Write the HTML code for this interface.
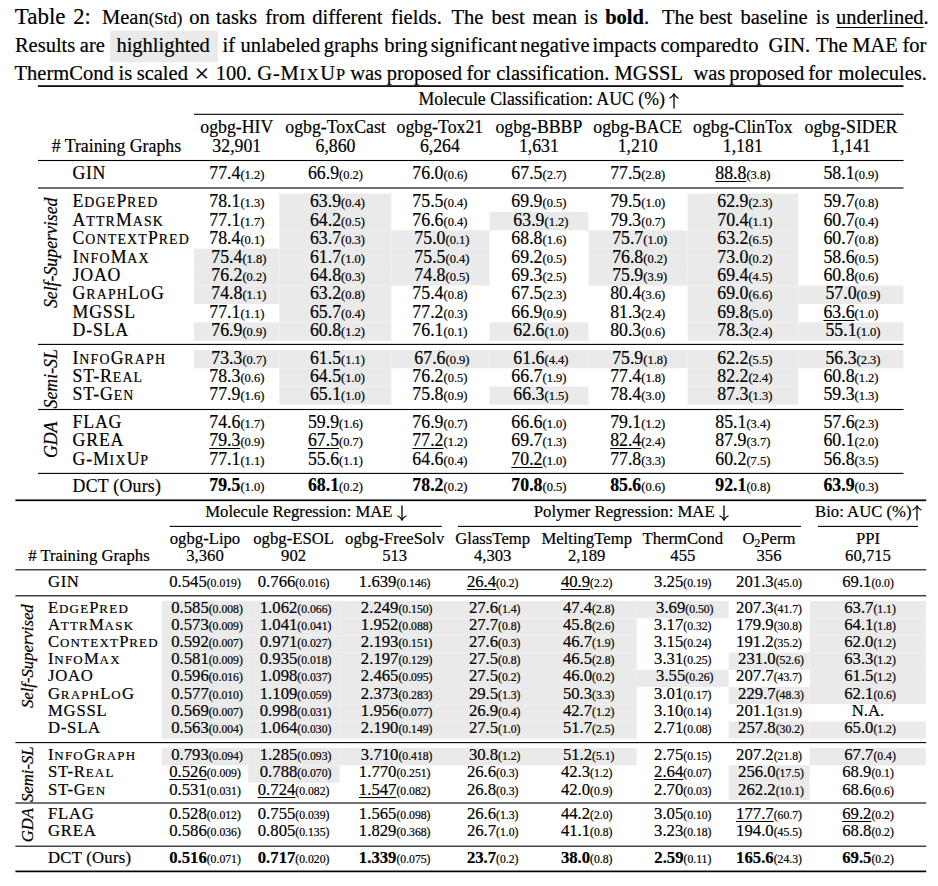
<!DOCTYPE html>
<html><head><meta charset="utf-8"><style>
html,body{margin:0;padding:0;background:#fff;}
body{width:938px;height:886px;position:relative;overflow:hidden;font-family:"Liberation Serif",serif;color:#000;-webkit-text-stroke:0.2px #000;}
.t{position:absolute;white-space:nowrap;line-height:1em;}
.r{position:absolute;}
.sc{font-size:0.78em;letter-spacing:1.2px;}
.cs{font-size:0.82em;}
.sc2{font-size:0.8em;letter-spacing:1.6px;}
.cap{position:absolute;line-height:1em;text-align:justify;text-align-last:justify;}
.hl{background:#ebebeb;padding:5px 6px 6px 6px;}
.v{position:absolute;text-align:center;transform:rotate(-90deg);font-style:italic;white-space:nowrap;}
.ar{vertical-align:-3.7px;}
u{text-decoration-thickness:1.1px;text-underline-offset:2.4px;text-decoration-color:#000;}
u.cu{text-decoration-thickness:1.4px;text-underline-offset:3.2px;}
sub{font-size:0.7em;vertical-align:-0.25em;line-height:0;}
</style></head><body>
<svg style="position:absolute;left:0;top:0" width="938" height="886" viewBox="0 0 938 886">
<rect x="110.10" y="31.00" width="107.80" height="31.40" fill="#eaeaea"/>
<rect x="279.30" y="193.50" width="112.00" height="18.41" fill="#eaeaea"/>
<rect x="687.60" y="193.50" width="110.70" height="18.41" fill="#eaeaea"/>
<rect x="279.30" y="211.91" width="112.00" height="18.41" fill="#eaeaea"/>
<rect x="489.50" y="211.91" width="99.00" height="18.41" fill="#eaeaea"/>
<rect x="687.60" y="211.91" width="110.70" height="18.41" fill="#eaeaea"/>
<rect x="279.30" y="230.32" width="112.00" height="18.41" fill="#eaeaea"/>
<rect x="391.30" y="230.32" width="98.20" height="18.41" fill="#eaeaea"/>
<rect x="588.50" y="230.32" width="99.10" height="18.41" fill="#eaeaea"/>
<rect x="687.60" y="230.32" width="110.70" height="18.41" fill="#eaeaea"/>
<rect x="194.00" y="248.73" width="85.30" height="18.41" fill="#eaeaea"/>
<rect x="279.30" y="248.73" width="112.00" height="18.41" fill="#eaeaea"/>
<rect x="391.30" y="248.73" width="98.20" height="18.41" fill="#eaeaea"/>
<rect x="588.50" y="248.73" width="99.10" height="18.41" fill="#eaeaea"/>
<rect x="687.60" y="248.73" width="110.70" height="18.41" fill="#eaeaea"/>
<rect x="194.00" y="267.14" width="85.30" height="18.41" fill="#eaeaea"/>
<rect x="279.30" y="267.14" width="112.00" height="18.41" fill="#eaeaea"/>
<rect x="391.30" y="267.14" width="98.20" height="18.41" fill="#eaeaea"/>
<rect x="588.50" y="267.14" width="99.10" height="18.41" fill="#eaeaea"/>
<rect x="687.60" y="267.14" width="110.70" height="18.41" fill="#eaeaea"/>
<rect x="194.00" y="285.55" width="85.30" height="18.41" fill="#eaeaea"/>
<rect x="279.30" y="285.55" width="112.00" height="18.41" fill="#eaeaea"/>
<rect x="687.60" y="285.55" width="110.70" height="18.41" fill="#eaeaea"/>
<rect x="798.30" y="285.55" width="105.10" height="18.41" fill="#eaeaea"/>
<rect x="279.30" y="303.96" width="112.00" height="18.41" fill="#eaeaea"/>
<rect x="687.60" y="303.96" width="110.70" height="18.41" fill="#eaeaea"/>
<rect x="194.00" y="322.37" width="85.30" height="18.41" fill="#eaeaea"/>
<rect x="279.30" y="322.37" width="112.00" height="18.41" fill="#eaeaea"/>
<rect x="489.50" y="322.37" width="99.00" height="18.41" fill="#eaeaea"/>
<rect x="687.60" y="322.37" width="110.70" height="18.41" fill="#eaeaea"/>
<rect x="798.30" y="322.37" width="105.10" height="18.41" fill="#eaeaea"/>
<rect x="194.00" y="350.10" width="85.30" height="18.20" fill="#eaeaea"/>
<rect x="279.30" y="350.10" width="112.00" height="18.20" fill="#eaeaea"/>
<rect x="391.30" y="350.10" width="98.20" height="18.20" fill="#eaeaea"/>
<rect x="489.50" y="350.10" width="99.00" height="18.20" fill="#eaeaea"/>
<rect x="588.50" y="350.10" width="99.10" height="18.20" fill="#eaeaea"/>
<rect x="687.60" y="350.10" width="110.70" height="18.20" fill="#eaeaea"/>
<rect x="798.30" y="350.10" width="105.10" height="18.20" fill="#eaeaea"/>
<rect x="279.30" y="368.30" width="112.00" height="18.20" fill="#eaeaea"/>
<rect x="687.60" y="368.30" width="110.70" height="18.20" fill="#eaeaea"/>
<rect x="279.30" y="386.50" width="112.00" height="18.20" fill="#eaeaea"/>
<rect x="489.50" y="386.50" width="99.00" height="18.20" fill="#eaeaea"/>
<rect x="687.60" y="386.50" width="110.70" height="18.20" fill="#eaeaea"/>
<rect x="161.70" y="601.00" width="86.40" height="17.20" fill="#eaeaea"/>
<rect x="248.10" y="601.00" width="91.70" height="17.20" fill="#eaeaea"/>
<rect x="339.80" y="601.00" width="106.20" height="17.20" fill="#eaeaea"/>
<rect x="446.00" y="601.00" width="90.00" height="17.20" fill="#eaeaea"/>
<rect x="536.00" y="601.00" width="100.80" height="17.20" fill="#eaeaea"/>
<rect x="636.80" y="601.00" width="91.90" height="17.20" fill="#eaeaea"/>
<rect x="809.60" y="601.00" width="116.30" height="17.20" fill="#eaeaea"/>
<rect x="161.70" y="618.20" width="86.40" height="17.20" fill="#eaeaea"/>
<rect x="248.10" y="618.20" width="91.70" height="17.20" fill="#eaeaea"/>
<rect x="339.80" y="618.20" width="106.20" height="17.20" fill="#eaeaea"/>
<rect x="446.00" y="618.20" width="90.00" height="17.20" fill="#eaeaea"/>
<rect x="536.00" y="618.20" width="100.80" height="17.20" fill="#eaeaea"/>
<rect x="809.60" y="618.20" width="116.30" height="17.20" fill="#eaeaea"/>
<rect x="161.70" y="635.40" width="86.40" height="17.20" fill="#eaeaea"/>
<rect x="248.10" y="635.40" width="91.70" height="17.20" fill="#eaeaea"/>
<rect x="339.80" y="635.40" width="106.20" height="17.20" fill="#eaeaea"/>
<rect x="446.00" y="635.40" width="90.00" height="17.20" fill="#eaeaea"/>
<rect x="536.00" y="635.40" width="100.80" height="17.20" fill="#eaeaea"/>
<rect x="809.60" y="635.40" width="116.30" height="17.20" fill="#eaeaea"/>
<rect x="161.70" y="652.60" width="86.40" height="17.20" fill="#eaeaea"/>
<rect x="248.10" y="652.60" width="91.70" height="17.20" fill="#eaeaea"/>
<rect x="339.80" y="652.60" width="106.20" height="17.20" fill="#eaeaea"/>
<rect x="446.00" y="652.60" width="90.00" height="17.20" fill="#eaeaea"/>
<rect x="536.00" y="652.60" width="100.80" height="17.20" fill="#eaeaea"/>
<rect x="728.70" y="652.60" width="80.90" height="17.20" fill="#eaeaea"/>
<rect x="809.60" y="652.60" width="116.30" height="17.20" fill="#eaeaea"/>
<rect x="161.70" y="669.80" width="86.40" height="17.20" fill="#eaeaea"/>
<rect x="248.10" y="669.80" width="91.70" height="17.20" fill="#eaeaea"/>
<rect x="339.80" y="669.80" width="106.20" height="17.20" fill="#eaeaea"/>
<rect x="446.00" y="669.80" width="90.00" height="17.20" fill="#eaeaea"/>
<rect x="536.00" y="669.80" width="100.80" height="17.20" fill="#eaeaea"/>
<rect x="636.80" y="669.80" width="91.90" height="17.20" fill="#eaeaea"/>
<rect x="809.60" y="669.80" width="116.30" height="17.20" fill="#eaeaea"/>
<rect x="161.70" y="687.00" width="86.40" height="17.20" fill="#eaeaea"/>
<rect x="248.10" y="687.00" width="91.70" height="17.20" fill="#eaeaea"/>
<rect x="339.80" y="687.00" width="106.20" height="17.20" fill="#eaeaea"/>
<rect x="446.00" y="687.00" width="90.00" height="17.20" fill="#eaeaea"/>
<rect x="536.00" y="687.00" width="100.80" height="17.20" fill="#eaeaea"/>
<rect x="728.70" y="687.00" width="80.90" height="17.20" fill="#eaeaea"/>
<rect x="809.60" y="687.00" width="116.30" height="17.20" fill="#eaeaea"/>
<rect x="161.70" y="704.20" width="86.40" height="17.20" fill="#eaeaea"/>
<rect x="248.10" y="704.20" width="91.70" height="17.20" fill="#eaeaea"/>
<rect x="339.80" y="704.20" width="106.20" height="17.20" fill="#eaeaea"/>
<rect x="446.00" y="704.20" width="90.00" height="17.20" fill="#eaeaea"/>
<rect x="536.00" y="704.20" width="100.80" height="17.20" fill="#eaeaea"/>
<rect x="161.70" y="721.40" width="86.40" height="17.20" fill="#eaeaea"/>
<rect x="248.10" y="721.40" width="91.70" height="17.20" fill="#eaeaea"/>
<rect x="339.80" y="721.40" width="106.20" height="17.20" fill="#eaeaea"/>
<rect x="446.00" y="721.40" width="90.00" height="17.20" fill="#eaeaea"/>
<rect x="536.00" y="721.40" width="100.80" height="17.20" fill="#eaeaea"/>
<rect x="728.70" y="721.40" width="80.90" height="17.20" fill="#eaeaea"/>
<rect x="809.60" y="721.40" width="116.30" height="17.20" fill="#eaeaea"/>
<rect x="161.70" y="747.90" width="86.40" height="17.40" fill="#eaeaea"/>
<rect x="248.10" y="747.90" width="91.70" height="17.40" fill="#eaeaea"/>
<rect x="339.80" y="747.90" width="106.20" height="17.40" fill="#eaeaea"/>
<rect x="446.00" y="747.90" width="90.00" height="17.40" fill="#eaeaea"/>
<rect x="536.00" y="747.90" width="100.80" height="17.40" fill="#eaeaea"/>
<rect x="809.60" y="747.90" width="116.30" height="17.40" fill="#eaeaea"/>
<rect x="248.10" y="765.30" width="91.70" height="17.40" fill="#eaeaea"/>
<rect x="728.70" y="765.30" width="80.90" height="17.40" fill="#eaeaea"/>
<rect x="728.70" y="782.70" width="80.90" height="17.40" fill="#eaeaea"/>
<rect x="38.00" y="85.25" width="865.50" height="1.70" fill="#000"/>
<rect x="194.00" y="113.75" width="709.50" height="1.10" fill="#000"/>
<rect x="38.00" y="159.95" width="865.50" height="1.10" fill="#000"/>
<rect x="38.00" y="187.45" width="865.50" height="1.10" fill="#000"/>
<rect x="38.00" y="343.85" width="865.50" height="1.10" fill="#000"/>
<rect x="38.00" y="408.95" width="865.50" height="1.10" fill="#000"/>
<rect x="38.00" y="472.85" width="865.50" height="1.10" fill="#000"/>
<rect x="15.40" y="499.45" width="910.80" height="1.70" fill="#000"/>
<rect x="169.70" y="525.85" width="272.10" height="1.10" fill="#000"/>
<rect x="458.00" y="525.85" width="343.00" height="1.10" fill="#000"/>
<rect x="818.00" y="525.85" width="100.00" height="1.10" fill="#000"/>
<rect x="15.40" y="569.25" width="910.80" height="1.10" fill="#000"/>
<rect x="15.40" y="595.25" width="910.80" height="1.10" fill="#000"/>
<rect x="15.40" y="742.05" width="910.80" height="1.10" fill="#000"/>
<rect x="15.40" y="802.45" width="910.80" height="1.10" fill="#000"/>
<rect x="15.40" y="845.65" width="910.80" height="1.10" fill="#000"/>
<rect x="15.40" y="870.55" width="910.80" height="1.70" fill="#000"/>
</svg>
<div class="t" style="left:14.80px;top:7.03px;font-size:20.5px"><span style="font-size:23px">Table</span></div>
<div class="t" style="left:73.20px;top:7.03px;font-size:20.5px"><span style="font-size:22.6px">2:</span></div>
<div class="t" style="left:102.00px;top:7.03px;font-size:20.5px">Mean<span class="cs">(Std)</span></div>
<div class="t" style="left:189.20px;top:7.03px;font-size:20.5px">on</div>
<div class="t" style="left:216.10px;top:7.03px;font-size:20.5px">tasks</div>
<div class="t" style="left:265.30px;top:7.03px;font-size:20.5px">from</div>
<div class="t" style="left:312.30px;top:7.03px;font-size:20.5px">different</div>
<div class="t" style="left:391.10px;top:7.03px;font-size:20.5px">fields.</div>
<div class="t" style="left:451.60px;top:7.03px;font-size:20.5px">The</div>
<div class="t" style="left:491.60px;top:7.03px;font-size:20.5px">best</div>
<div class="t" style="left:532.60px;top:7.03px;font-size:20.5px">mean</div>
<div class="t" style="left:584.10px;top:7.03px;font-size:20.5px">is</div>
<div class="t" style="left:605.20px;top:7.03px;font-size:20.5px"><b>bold</b>.</div>
<div class="t" style="left:661.90px;top:7.03px;font-size:20.5px">The</div>
<div class="t" style="left:699.20px;top:7.03px;font-size:20.5px">best</div>
<div class="t" style="left:740.40px;top:7.03px;font-size:20.5px">baseline</div>
<div class="t" style="left:815.80px;top:7.03px;font-size:20.5px">is</div>
<div class="t" style="left:835.90px;top:7.03px;font-size:20.5px"><u class="cu">underlined</u>.</div>
<div class="t" style="left:14.90px;top:34.63px;font-size:20.5px">Results</div>
<div class="t" style="left:79.80px;top:34.63px;font-size:20.5px">are</div>
<div class="t" style="left:116.40px;top:34.63px;font-size:20.5px">highlighted</div>
<div class="t" style="left:222.60px;top:34.63px;font-size:20.5px">if</div>
<div class="t" style="left:240.50px;top:34.63px;font-size:20.5px">unlabeled</div>
<div class="t" style="left:323.80px;top:34.63px;font-size:20.5px">graphs</div>
<div class="t" style="left:384.20px;top:34.63px;font-size:20.5px">bring</div>
<div class="t" style="left:430.70px;top:34.63px;font-size:20.5px">significant</div>
<div class="t" style="left:520.20px;top:34.63px;font-size:20.5px">negative</div>
<div class="t" style="left:592.60px;top:34.63px;font-size:20.5px">impacts</div>
<div class="t" style="left:660.50px;top:34.63px;font-size:20.5px">compared</div>
<div class="t" style="left:742.50px;top:34.63px;font-size:20.5px">to</div>
<div class="t" style="left:768.50px;top:34.63px;font-size:20.5px">GIN.</div>
<div class="t" style="left:815.80px;top:34.63px;font-size:20.5px">The</div>
<div class="t" style="left:852.20px;top:34.63px;font-size:20.5px">MAE</div>
<div class="t" style="left:902.40px;top:34.63px;font-size:20.5px">for</div>
<div class="t" style="left:14.60px;top:62.83px;font-size:20.5px">ThermCond</div>
<div class="t" style="left:118.60px;top:62.83px;font-size:20.5px">is</div>
<div class="t" style="left:136.70px;top:62.83px;font-size:20.5px">scaled</div>
<div class="t" style="left:194.60px;top:62.83px;font-size:20.5px"><span style="font-size:26px;vertical-align:-1.6px">&times;</span></div>
<div class="t" style="left:215.80px;top:62.83px;font-size:20.5px">100.</div>
<div class="t" style="left:257.20px;top:62.83px;font-size:20.5px"><span style="letter-spacing:0.9px">G-M<span class="sc2">IX</span>U<span class="sc2">P</span></span></div>
<div class="t" style="left:350.20px;top:62.83px;font-size:20.5px">was</div>
<div class="t" style="left:386.80px;top:62.83px;font-size:20.5px">proposed</div>
<div class="t" style="left:466.40px;top:62.83px;font-size:20.5px">for</div>
<div class="t" style="left:496.20px;top:62.83px;font-size:20.5px">classification.</div>
<div class="t" style="left:614.60px;top:62.83px;font-size:20.5px">MGSSL</div>
<div class="t" style="left:693.40px;top:62.83px;font-size:20.5px">was</div>
<div class="t" style="left:729.20px;top:62.83px;font-size:20.5px">proposed</div>
<div class="t" style="left:808.30px;top:62.83px;font-size:20.5px">for</div>
<div class="t" style="left:838.60px;top:62.83px;font-size:20.5px">molecules.</div>
<div class="t " style="left:72.60px;top:193.39px;font-size:17.8px;letter-spacing:0.80px;">E<span class="sc">DGE</span>P<span class="sc">RED</span></div>
<div class="t " style="left:86.80px;width:300px;text-align:center;top:193.39px;font-size:17.8px;">78.1<span style="font-size:12.5px">(1.3)</span></div>
<div class="t " style="left:187.50px;width:300px;text-align:center;top:193.39px;font-size:17.8px;">63.9<span style="font-size:12.5px">(0.4)</span></div>
<div class="t " style="left:289.90px;width:300px;text-align:center;top:193.39px;font-size:17.8px;">75.5<span style="font-size:12.5px">(0.4)</span></div>
<div class="t " style="left:388.90px;width:300px;text-align:center;top:193.39px;font-size:17.8px;">69.9<span style="font-size:12.5px">(0.5)</span></div>
<div class="t " style="left:487.70px;width:300px;text-align:center;top:193.39px;font-size:17.8px;">79.5<span style="font-size:12.5px">(1.0)</span></div>
<div class="t " style="left:594.80px;width:300px;text-align:center;top:193.39px;font-size:17.8px;">62.9<span style="font-size:12.5px">(2.3)</span></div>
<div class="t " style="left:701.00px;width:300px;text-align:center;top:193.39px;font-size:17.8px;">59.7<span style="font-size:12.5px">(0.8)</span></div>
<div class="t " style="left:72.60px;top:211.80px;font-size:17.8px;letter-spacing:0.80px;">A<span class="sc">TTR</span>M<span class="sc">ASK</span></div>
<div class="t " style="left:86.80px;width:300px;text-align:center;top:211.80px;font-size:17.8px;">77.1<span style="font-size:12.5px">(1.7)</span></div>
<div class="t " style="left:187.50px;width:300px;text-align:center;top:211.80px;font-size:17.8px;">64.2<span style="font-size:12.5px">(0.5)</span></div>
<div class="t " style="left:289.90px;width:300px;text-align:center;top:211.80px;font-size:17.8px;">76.6<span style="font-size:12.5px">(0.4)</span></div>
<div class="t " style="left:390.90px;width:300px;text-align:center;top:211.80px;font-size:17.8px;">63.9<span style="font-size:12.5px">(1.2)</span></div>
<div class="t " style="left:487.70px;width:300px;text-align:center;top:211.80px;font-size:17.8px;">79.3<span style="font-size:12.5px">(0.7)</span></div>
<div class="t " style="left:594.80px;width:300px;text-align:center;top:211.80px;font-size:17.8px;">70.4<span style="font-size:12.5px">(1.1)</span></div>
<div class="t " style="left:701.00px;width:300px;text-align:center;top:211.80px;font-size:17.8px;">60.7<span style="font-size:12.5px">(0.4)</span></div>
<div class="t " style="left:72.60px;top:230.21px;font-size:17.8px;letter-spacing:0.80px;">C<span class="sc">ONTEXT</span>P<span class="sc">RED</span></div>
<div class="t " style="left:86.80px;width:300px;text-align:center;top:230.21px;font-size:17.8px;">78.4<span style="font-size:12.5px">(0.1)</span></div>
<div class="t " style="left:187.50px;width:300px;text-align:center;top:230.21px;font-size:17.8px;">63.7<span style="font-size:12.5px">(0.3)</span></div>
<div class="t " style="left:291.90px;width:300px;text-align:center;top:230.21px;font-size:17.8px;">75.0<span style="font-size:12.5px">(0.1)</span></div>
<div class="t " style="left:388.90px;width:300px;text-align:center;top:230.21px;font-size:17.8px;">68.8<span style="font-size:12.5px">(1.6)</span></div>
<div class="t " style="left:489.70px;width:300px;text-align:center;top:230.21px;font-size:17.8px;">75.7<span style="font-size:12.5px">(1.0)</span></div>
<div class="t " style="left:594.80px;width:300px;text-align:center;top:230.21px;font-size:17.8px;">63.2<span style="font-size:12.5px">(6.5)</span></div>
<div class="t " style="left:701.00px;width:300px;text-align:center;top:230.21px;font-size:17.8px;">60.7<span style="font-size:12.5px">(0.8)</span></div>
<div class="t " style="left:72.60px;top:248.62px;font-size:17.8px;letter-spacing:0.80px;">I<span class="sc">NFO</span>M<span class="sc">AX</span></div>
<div class="t " style="left:88.80px;width:300px;text-align:center;top:248.62px;font-size:17.8px;">75.4<span style="font-size:12.5px">(1.8)</span></div>
<div class="t " style="left:187.50px;width:300px;text-align:center;top:248.62px;font-size:17.8px;">61.7<span style="font-size:12.5px">(1.0)</span></div>
<div class="t " style="left:291.90px;width:300px;text-align:center;top:248.62px;font-size:17.8px;">75.5<span style="font-size:12.5px">(0.4)</span></div>
<div class="t " style="left:388.90px;width:300px;text-align:center;top:248.62px;font-size:17.8px;">69.2<span style="font-size:12.5px">(0.5)</span></div>
<div class="t " style="left:489.70px;width:300px;text-align:center;top:248.62px;font-size:17.8px;">76.8<span style="font-size:12.5px">(0.2)</span></div>
<div class="t " style="left:594.80px;width:300px;text-align:center;top:248.62px;font-size:17.8px;">73.0<span style="font-size:12.5px">(0.2)</span></div>
<div class="t " style="left:701.00px;width:300px;text-align:center;top:248.62px;font-size:17.8px;">58.6<span style="font-size:12.5px">(0.5)</span></div>
<div class="t " style="left:72.60px;top:267.03px;font-size:17.8px;letter-spacing:0.80px;">JOAO</div>
<div class="t " style="left:88.80px;width:300px;text-align:center;top:267.03px;font-size:17.8px;">76.2<span style="font-size:12.5px">(0.2)</span></div>
<div class="t " style="left:187.50px;width:300px;text-align:center;top:267.03px;font-size:17.8px;">64.8<span style="font-size:12.5px">(0.3)</span></div>
<div class="t " style="left:291.90px;width:300px;text-align:center;top:267.03px;font-size:17.8px;">74.8<span style="font-size:12.5px">(0.5)</span></div>
<div class="t " style="left:388.90px;width:300px;text-align:center;top:267.03px;font-size:17.8px;">69.3<span style="font-size:12.5px">(2.5)</span></div>
<div class="t " style="left:489.70px;width:300px;text-align:center;top:267.03px;font-size:17.8px;">75.9<span style="font-size:12.5px">(3.9)</span></div>
<div class="t " style="left:594.80px;width:300px;text-align:center;top:267.03px;font-size:17.8px;">69.4<span style="font-size:12.5px">(4.5)</span></div>
<div class="t " style="left:701.00px;width:300px;text-align:center;top:267.03px;font-size:17.8px;">60.8<span style="font-size:12.5px">(0.6)</span></div>
<div class="t " style="left:72.60px;top:285.44px;font-size:17.8px;letter-spacing:0.80px;">G<span class="sc">RAPH</span>L<span class="sc">O</span>G</div>
<div class="t " style="left:88.80px;width:300px;text-align:center;top:285.44px;font-size:17.8px;">74.8<span style="font-size:12.5px">(1.1)</span></div>
<div class="t " style="left:187.50px;width:300px;text-align:center;top:285.44px;font-size:17.8px;">63.2<span style="font-size:12.5px">(0.8)</span></div>
<div class="t " style="left:289.90px;width:300px;text-align:center;top:285.44px;font-size:17.8px;">75.4<span style="font-size:12.5px">(0.8)</span></div>
<div class="t " style="left:388.90px;width:300px;text-align:center;top:285.44px;font-size:17.8px;">67.5<span style="font-size:12.5px">(2.3)</span></div>
<div class="t " style="left:487.70px;width:300px;text-align:center;top:285.44px;font-size:17.8px;">80.4<span style="font-size:12.5px">(3.6)</span></div>
<div class="t " style="left:594.80px;width:300px;text-align:center;top:285.44px;font-size:17.8px;">69.0<span style="font-size:12.5px">(6.6)</span></div>
<div class="t " style="left:703.00px;width:300px;text-align:center;top:285.44px;font-size:17.8px;">57.0<span style="font-size:12.5px">(0.9)</span></div>
<div class="t " style="left:72.60px;top:303.85px;font-size:17.8px;letter-spacing:0.80px;">MGSSL</div>
<div class="t " style="left:86.80px;width:300px;text-align:center;top:303.85px;font-size:17.8px;">77.1<span style="font-size:12.5px">(1.1)</span></div>
<div class="t " style="left:187.50px;width:300px;text-align:center;top:303.85px;font-size:17.8px;">65.7<span style="font-size:12.5px">(0.4)</span></div>
<div class="t " style="left:289.90px;width:300px;text-align:center;top:303.85px;font-size:17.8px;">77.2<span style="font-size:12.5px">(0.3)</span></div>
<div class="t " style="left:388.90px;width:300px;text-align:center;top:303.85px;font-size:17.8px;">66.9<span style="font-size:12.5px">(0.9)</span></div>
<div class="t " style="left:487.70px;width:300px;text-align:center;top:303.85px;font-size:17.8px;">81.3<span style="font-size:12.5px">(2.4)</span></div>
<div class="t " style="left:594.80px;width:300px;text-align:center;top:303.85px;font-size:17.8px;">69.8<span style="font-size:12.5px">(5.0)</span></div>
<div class="t " style="left:701.00px;width:300px;text-align:center;top:303.85px;font-size:17.8px;"><u>63.6</u><span style="font-size:12.5px">(1.0)</span></div>
<div class="t " style="left:72.60px;top:322.26px;font-size:17.8px;letter-spacing:0.80px;">D-SLA</div>
<div class="t " style="left:88.80px;width:300px;text-align:center;top:322.26px;font-size:17.8px;">76.9<span style="font-size:12.5px">(0.9)</span></div>
<div class="t " style="left:187.50px;width:300px;text-align:center;top:322.26px;font-size:17.8px;">60.8<span style="font-size:12.5px">(1.2)</span></div>
<div class="t " style="left:289.90px;width:300px;text-align:center;top:322.26px;font-size:17.8px;">76.1<span style="font-size:12.5px">(0.1)</span></div>
<div class="t " style="left:390.90px;width:300px;text-align:center;top:322.26px;font-size:17.8px;">62.6<span style="font-size:12.5px">(1.0)</span></div>
<div class="t " style="left:487.70px;width:300px;text-align:center;top:322.26px;font-size:17.8px;">80.3<span style="font-size:12.5px">(0.6)</span></div>
<div class="t " style="left:594.80px;width:300px;text-align:center;top:322.26px;font-size:17.8px;">78.3<span style="font-size:12.5px">(2.4)</span></div>
<div class="t " style="left:703.00px;width:300px;text-align:center;top:322.26px;font-size:17.8px;">55.1<span style="font-size:12.5px">(1.0)</span></div>
<div class="t " style="left:72.60px;top:349.99px;font-size:17.8px;letter-spacing:0.80px;">I<span class="sc">NFO</span>G<span class="sc">RAPH</span></div>
<div class="t " style="left:88.80px;width:300px;text-align:center;top:349.99px;font-size:17.8px;">73.3<span style="font-size:12.5px">(0.7)</span></div>
<div class="t " style="left:187.50px;width:300px;text-align:center;top:349.99px;font-size:17.8px;">61.5<span style="font-size:12.5px">(1.1)</span></div>
<div class="t " style="left:291.90px;width:300px;text-align:center;top:349.99px;font-size:17.8px;">67.6<span style="font-size:12.5px">(0.9)</span></div>
<div class="t " style="left:390.90px;width:300px;text-align:center;top:349.99px;font-size:17.8px;">61.6<span style="font-size:12.5px">(4.4)</span></div>
<div class="t " style="left:489.70px;width:300px;text-align:center;top:349.99px;font-size:17.8px;">75.9<span style="font-size:12.5px">(1.8)</span></div>
<div class="t " style="left:594.80px;width:300px;text-align:center;top:349.99px;font-size:17.8px;">62.2<span style="font-size:12.5px">(5.5)</span></div>
<div class="t " style="left:703.00px;width:300px;text-align:center;top:349.99px;font-size:17.8px;">56.3<span style="font-size:12.5px">(2.3)</span></div>
<div class="t " style="left:72.60px;top:368.19px;font-size:17.8px;letter-spacing:0.80px;">ST-R<span class="sc">EAL</span></div>
<div class="t " style="left:86.80px;width:300px;text-align:center;top:368.19px;font-size:17.8px;">78.3<span style="font-size:12.5px">(0.6)</span></div>
<div class="t " style="left:187.50px;width:300px;text-align:center;top:368.19px;font-size:17.8px;">64.5<span style="font-size:12.5px">(1.0)</span></div>
<div class="t " style="left:289.90px;width:300px;text-align:center;top:368.19px;font-size:17.8px;">76.2<span style="font-size:12.5px">(0.5)</span></div>
<div class="t " style="left:388.90px;width:300px;text-align:center;top:368.19px;font-size:17.8px;">66.7<span style="font-size:12.5px">(1.9)</span></div>
<div class="t " style="left:487.70px;width:300px;text-align:center;top:368.19px;font-size:17.8px;">77.4<span style="font-size:12.5px">(1.8)</span></div>
<div class="t " style="left:594.80px;width:300px;text-align:center;top:368.19px;font-size:17.8px;">82.2<span style="font-size:12.5px">(2.4)</span></div>
<div class="t " style="left:701.00px;width:300px;text-align:center;top:368.19px;font-size:17.8px;">60.8<span style="font-size:12.5px">(1.2)</span></div>
<div class="t " style="left:72.60px;top:386.39px;font-size:17.8px;letter-spacing:0.80px;">ST-G<span class="sc">EN</span></div>
<div class="t " style="left:86.80px;width:300px;text-align:center;top:386.39px;font-size:17.8px;">77.9<span style="font-size:12.5px">(1.6)</span></div>
<div class="t " style="left:187.50px;width:300px;text-align:center;top:386.39px;font-size:17.8px;">65.1<span style="font-size:12.5px">(1.0)</span></div>
<div class="t " style="left:289.90px;width:300px;text-align:center;top:386.39px;font-size:17.8px;">75.8<span style="font-size:12.5px">(0.9)</span></div>
<div class="t " style="left:390.90px;width:300px;text-align:center;top:386.39px;font-size:17.8px;">66.3<span style="font-size:12.5px">(1.5)</span></div>
<div class="t " style="left:487.70px;width:300px;text-align:center;top:386.39px;font-size:17.8px;">78.4<span style="font-size:12.5px">(3.0)</span></div>
<div class="t " style="left:594.80px;width:300px;text-align:center;top:386.39px;font-size:17.8px;">87.3<span style="font-size:12.5px">(1.3)</span></div>
<div class="t " style="left:701.00px;width:300px;text-align:center;top:386.39px;font-size:17.8px;">59.3<span style="font-size:12.5px">(1.3)</span></div>
<div class="t " style="left:72.60px;top:413.89px;font-size:17.8px;letter-spacing:0.80px;">FLAG</div>
<div class="t " style="left:86.80px;width:300px;text-align:center;top:413.89px;font-size:17.8px;">74.6<span style="font-size:12.5px">(1.7)</span></div>
<div class="t " style="left:185.50px;width:300px;text-align:center;top:413.89px;font-size:17.8px;">59.9<span style="font-size:12.5px">(1.6)</span></div>
<div class="t " style="left:289.90px;width:300px;text-align:center;top:413.89px;font-size:17.8px;">76.9<span style="font-size:12.5px">(0.7)</span></div>
<div class="t " style="left:388.90px;width:300px;text-align:center;top:413.89px;font-size:17.8px;">66.6<span style="font-size:12.5px">(1.0)</span></div>
<div class="t " style="left:487.70px;width:300px;text-align:center;top:413.89px;font-size:17.8px;">79.1<span style="font-size:12.5px">(1.2)</span></div>
<div class="t " style="left:592.80px;width:300px;text-align:center;top:413.89px;font-size:17.8px;">85.1<span style="font-size:12.5px">(3.4)</span></div>
<div class="t " style="left:701.00px;width:300px;text-align:center;top:413.89px;font-size:17.8px;">57.6<span style="font-size:12.5px">(2.3)</span></div>
<div class="t " style="left:72.60px;top:432.39px;font-size:17.8px;letter-spacing:0.80px;">GREA</div>
<div class="t " style="left:86.80px;width:300px;text-align:center;top:432.39px;font-size:17.8px;"><u>79.3</u><span style="font-size:12.5px">(0.9)</span></div>
<div class="t " style="left:185.50px;width:300px;text-align:center;top:432.39px;font-size:17.8px;"><u>67.5</u><span style="font-size:12.5px">(0.7)</span></div>
<div class="t " style="left:289.90px;width:300px;text-align:center;top:432.39px;font-size:17.8px;"><u>77.2</u><span style="font-size:12.5px">(1.2)</span></div>
<div class="t " style="left:388.90px;width:300px;text-align:center;top:432.39px;font-size:17.8px;">69.7<span style="font-size:12.5px">(1.3)</span></div>
<div class="t " style="left:487.70px;width:300px;text-align:center;top:432.39px;font-size:17.8px;"><u>82.4</u><span style="font-size:12.5px">(2.4)</span></div>
<div class="t " style="left:592.80px;width:300px;text-align:center;top:432.39px;font-size:17.8px;">87.9<span style="font-size:12.5px">(3.7)</span></div>
<div class="t " style="left:701.00px;width:300px;text-align:center;top:432.39px;font-size:17.8px;">60.1<span style="font-size:12.5px">(2.0)</span></div>
<div class="t " style="left:72.60px;top:450.89px;font-size:17.8px;letter-spacing:0.80px;">G-M<span class="sc">IX</span>U<span class="sc">P</span></div>
<div class="t " style="left:86.80px;width:300px;text-align:center;top:450.89px;font-size:17.8px;">77.1<span style="font-size:12.5px">(1.1)</span></div>
<div class="t " style="left:185.50px;width:300px;text-align:center;top:450.89px;font-size:17.8px;">55.6<span style="font-size:12.5px">(1.1)</span></div>
<div class="t " style="left:289.90px;width:300px;text-align:center;top:450.89px;font-size:17.8px;">64.6<span style="font-size:12.5px">(0.4)</span></div>
<div class="t " style="left:388.90px;width:300px;text-align:center;top:450.89px;font-size:17.8px;"><u>70.2</u><span style="font-size:12.5px">(1.0)</span></div>
<div class="t " style="left:487.70px;width:300px;text-align:center;top:450.89px;font-size:17.8px;">77.8<span style="font-size:12.5px">(3.3)</span></div>
<div class="t " style="left:592.80px;width:300px;text-align:center;top:450.89px;font-size:17.8px;">60.2<span style="font-size:12.5px">(7.5)</span></div>
<div class="t " style="left:701.00px;width:300px;text-align:center;top:450.89px;font-size:17.8px;">56.8<span style="font-size:12.5px">(3.5)</span></div>
<div class="t " style="left:399.00px;width:300px;text-align:center;top:91.29px;font-size:17.8px;">Molecule Classification: AUC (%) <svg class="ar" width="10" height="16" viewBox="0 0 10 16"><path d="M5 1 L5 15.5" stroke="#000" stroke-width="1.3" fill="none"/><path d="M0.5 5.2 Q3.5 4 5 0.8 Q6.5 4 9.5 5.2" stroke="#000" stroke-width="1.1" fill="none"/></svg></div>
<div class="t " style="left:86.80px;width:300px;text-align:center;top:119.29px;font-size:17.8px;">ogbg-HIV</div>
<div class="t " style="left:86.80px;width:300px;text-align:center;top:137.59px;font-size:17.8px;">32,901</div>
<div class="t " style="left:185.50px;width:300px;text-align:center;top:119.29px;font-size:17.8px;">ogbg-ToxCast</div>
<div class="t " style="left:185.50px;width:300px;text-align:center;top:137.59px;font-size:17.8px;">6,860</div>
<div class="t " style="left:289.90px;width:300px;text-align:center;top:119.29px;font-size:17.8px;">ogbg-Tox21</div>
<div class="t " style="left:289.90px;width:300px;text-align:center;top:137.59px;font-size:17.8px;">6,264</div>
<div class="t " style="left:388.90px;width:300px;text-align:center;top:119.29px;font-size:17.8px;">ogbg-BBBP</div>
<div class="t " style="left:388.90px;width:300px;text-align:center;top:137.59px;font-size:17.8px;">1,631</div>
<div class="t " style="left:487.70px;width:300px;text-align:center;top:119.29px;font-size:17.8px;">ogbg-BACE</div>
<div class="t " style="left:487.70px;width:300px;text-align:center;top:137.59px;font-size:17.8px;">1,210</div>
<div class="t " style="left:592.80px;width:300px;text-align:center;top:119.29px;font-size:17.8px;">ogbg-ClinTox</div>
<div class="t " style="left:592.80px;width:300px;text-align:center;top:137.59px;font-size:17.8px;">1,181</div>
<div class="t " style="left:701.00px;width:300px;text-align:center;top:119.29px;font-size:17.8px;">ogbg-SIDER</div>
<div class="t " style="left:701.00px;width:300px;text-align:center;top:137.59px;font-size:17.8px;">1,141</div>
<div class="t " style="left:51.70px;top:137.59px;font-size:17.8px;"># Training Graphs</div>
<div class="t " style="left:72.60px;top:164.69px;font-size:17.8px;letter-spacing:0.6px;">GIN</div>
<div class="t " style="left:86.80px;width:300px;text-align:center;top:164.69px;font-size:17.8px;">77.4<span style="font-size:12.5px">(1.2)</span></div>
<div class="t " style="left:185.50px;width:300px;text-align:center;top:164.69px;font-size:17.8px;">66.9<span style="font-size:12.5px">(0.2)</span></div>
<div class="t " style="left:289.90px;width:300px;text-align:center;top:164.69px;font-size:17.8px;">76.0<span style="font-size:12.5px">(0.6)</span></div>
<div class="t " style="left:388.90px;width:300px;text-align:center;top:164.69px;font-size:17.8px;">67.5<span style="font-size:12.5px">(2.7)</span></div>
<div class="t " style="left:487.70px;width:300px;text-align:center;top:164.69px;font-size:17.8px;">77.5<span style="font-size:12.5px">(2.8)</span></div>
<div class="t " style="left:592.80px;width:300px;text-align:center;top:164.69px;font-size:17.8px;"><u>88.8</u><span style="font-size:12.5px">(3.8)</span></div>
<div class="t " style="left:701.00px;width:300px;text-align:center;top:164.69px;font-size:17.8px;">58.1<span style="font-size:12.5px">(0.9)</span></div>
<div class="t " style="left:72.60px;top:478.09px;font-size:17.8px;letter-spacing:0.25px;">DCT (Ours)</div>
<div class="t " style="left:86.80px;width:300px;text-align:center;top:477.49px;font-size:17.8px;"><b>79.5</b><span style="font-size:12.5px">(1.0)</span></div>
<div class="t " style="left:185.50px;width:300px;text-align:center;top:477.49px;font-size:17.8px;"><b>68.1</b><span style="font-size:12.5px">(0.2)</span></div>
<div class="t " style="left:289.90px;width:300px;text-align:center;top:477.49px;font-size:17.8px;"><b>78.2</b><span style="font-size:12.5px">(0.2)</span></div>
<div class="t " style="left:388.90px;width:300px;text-align:center;top:477.49px;font-size:17.8px;"><b>70.8</b><span style="font-size:12.5px">(0.5)</span></div>
<div class="t " style="left:487.70px;width:300px;text-align:center;top:477.49px;font-size:17.8px;"><b>85.6</b><span style="font-size:12.5px">(0.6)</span></div>
<div class="t " style="left:592.80px;width:300px;text-align:center;top:477.49px;font-size:17.8px;"><b>92.1</b><span style="font-size:12.5px">(0.8)</span></div>
<div class="t " style="left:701.00px;width:300px;text-align:center;top:477.49px;font-size:17.8px;"><b>63.9</b><span style="font-size:12.5px">(0.3)</span></div>
<div class="v" style="left:-97.80px;top:243.21px;width:300px;font-size:17.8px;line-height:19.58px">Self-Supervised</div>
<div class="v" style="left:-98.50px;top:369.21px;width:300px;font-size:17.8px;line-height:19.58px">Semi-SL</div>
<div class="v" style="left:-98.50px;top:429.71px;width:300px;font-size:17.8px;line-height:19.58px">GDA</div>
<div class="t " style="left:48.00px;top:599.51px;font-size:16.7px;letter-spacing:0.75px;">E<span class="sc">DGE</span>P<span class="sc">RED</span></div>
<div class="t " style="left:57.00px;width:300px;text-align:center;top:599.51px;font-size:16.7px;">0.585<span style="font-size:11.7px">(0.008)</span></div>
<div class="t " style="left:145.60px;width:300px;text-align:center;top:599.51px;font-size:16.7px;">1.062<span style="font-size:11.7px">(0.066)</span></div>
<div class="t " style="left:246.70px;width:300px;text-align:center;top:599.51px;font-size:16.7px;">2.249<span style="font-size:11.7px">(0.150)</span></div>
<div class="t " style="left:344.70px;width:300px;text-align:center;top:599.51px;font-size:16.7px;">27.6<span style="font-size:11.7px">(1.4)</span></div>
<div class="t " style="left:438.70px;width:300px;text-align:center;top:599.51px;font-size:16.7px;">47.4<span style="font-size:11.7px">(2.8)</span></div>
<div class="t " style="left:534.80px;width:300px;text-align:center;top:599.51px;font-size:16.7px;">3.69<span style="font-size:11.7px">(0.50)</span></div>
<div class="t " style="left:619.00px;width:300px;text-align:center;top:599.51px;font-size:16.7px;">207.3<span style="font-size:11.7px">(41.7)</span></div>
<div class="t " style="left:720.00px;width:300px;text-align:center;top:599.51px;font-size:16.7px;">63.7<span style="font-size:11.7px">(1.1)</span></div>
<div class="t " style="left:48.00px;top:616.71px;font-size:16.7px;letter-spacing:0.75px;">A<span class="sc">TTR</span>M<span class="sc">ASK</span></div>
<div class="t " style="left:57.00px;width:300px;text-align:center;top:616.71px;font-size:16.7px;">0.573<span style="font-size:11.7px">(0.009)</span></div>
<div class="t " style="left:145.60px;width:300px;text-align:center;top:616.71px;font-size:16.7px;">1.041<span style="font-size:11.7px">(0.041)</span></div>
<div class="t " style="left:246.70px;width:300px;text-align:center;top:616.71px;font-size:16.7px;">1.952<span style="font-size:11.7px">(0.088)</span></div>
<div class="t " style="left:344.70px;width:300px;text-align:center;top:616.71px;font-size:16.7px;">27.7<span style="font-size:11.7px">(0.8)</span></div>
<div class="t " style="left:438.70px;width:300px;text-align:center;top:616.71px;font-size:16.7px;">45.8<span style="font-size:11.7px">(2.6)</span></div>
<div class="t " style="left:532.80px;width:300px;text-align:center;top:616.71px;font-size:16.7px;">3.17<span style="font-size:11.7px">(0.32)</span></div>
<div class="t " style="left:619.00px;width:300px;text-align:center;top:616.71px;font-size:16.7px;">179.9<span style="font-size:11.7px">(30.8)</span></div>
<div class="t " style="left:720.00px;width:300px;text-align:center;top:616.71px;font-size:16.7px;">64.1<span style="font-size:11.7px">(1.8)</span></div>
<div class="t " style="left:48.00px;top:633.91px;font-size:16.7px;letter-spacing:0.75px;">C<span class="sc">ONTEXT</span>P<span class="sc">RED</span></div>
<div class="t " style="left:57.00px;width:300px;text-align:center;top:633.91px;font-size:16.7px;">0.592<span style="font-size:11.7px">(0.007)</span></div>
<div class="t " style="left:145.60px;width:300px;text-align:center;top:633.91px;font-size:16.7px;">0.971<span style="font-size:11.7px">(0.027)</span></div>
<div class="t " style="left:246.70px;width:300px;text-align:center;top:633.91px;font-size:16.7px;">2.193<span style="font-size:11.7px">(0.151)</span></div>
<div class="t " style="left:344.70px;width:300px;text-align:center;top:633.91px;font-size:16.7px;">27.6<span style="font-size:11.7px">(0.3)</span></div>
<div class="t " style="left:438.70px;width:300px;text-align:center;top:633.91px;font-size:16.7px;">46.7<span style="font-size:11.7px">(1.9)</span></div>
<div class="t " style="left:532.80px;width:300px;text-align:center;top:633.91px;font-size:16.7px;">3.15<span style="font-size:11.7px">(0.24)</span></div>
<div class="t " style="left:619.00px;width:300px;text-align:center;top:633.91px;font-size:16.7px;">191.2<span style="font-size:11.7px">(35.2)</span></div>
<div class="t " style="left:720.00px;width:300px;text-align:center;top:633.91px;font-size:16.7px;">62.0<span style="font-size:11.7px">(1.2)</span></div>
<div class="t " style="left:48.00px;top:651.11px;font-size:16.7px;letter-spacing:0.75px;">I<span class="sc">NFO</span>M<span class="sc">AX</span></div>
<div class="t " style="left:57.00px;width:300px;text-align:center;top:651.11px;font-size:16.7px;">0.581<span style="font-size:11.7px">(0.009)</span></div>
<div class="t " style="left:145.60px;width:300px;text-align:center;top:651.11px;font-size:16.7px;">0.935<span style="font-size:11.7px">(0.018)</span></div>
<div class="t " style="left:246.70px;width:300px;text-align:center;top:651.11px;font-size:16.7px;">2.197<span style="font-size:11.7px">(0.129)</span></div>
<div class="t " style="left:344.70px;width:300px;text-align:center;top:651.11px;font-size:16.7px;">27.5<span style="font-size:11.7px">(0.8)</span></div>
<div class="t " style="left:438.70px;width:300px;text-align:center;top:651.11px;font-size:16.7px;">46.5<span style="font-size:11.7px">(2.8)</span></div>
<div class="t " style="left:532.80px;width:300px;text-align:center;top:651.11px;font-size:16.7px;">3.31<span style="font-size:11.7px">(0.25)</span></div>
<div class="t " style="left:621.00px;width:300px;text-align:center;top:651.11px;font-size:16.7px;">231.0<span style="font-size:11.7px">(52.6)</span></div>
<div class="t " style="left:720.00px;width:300px;text-align:center;top:651.11px;font-size:16.7px;">63.3<span style="font-size:11.7px">(1.2)</span></div>
<div class="t " style="left:48.00px;top:668.31px;font-size:16.7px;letter-spacing:0.75px;">JOAO</div>
<div class="t " style="left:57.00px;width:300px;text-align:center;top:668.31px;font-size:16.7px;">0.596<span style="font-size:11.7px">(0.016)</span></div>
<div class="t " style="left:145.60px;width:300px;text-align:center;top:668.31px;font-size:16.7px;">1.098<span style="font-size:11.7px">(0.037)</span></div>
<div class="t " style="left:246.70px;width:300px;text-align:center;top:668.31px;font-size:16.7px;">2.465<span style="font-size:11.7px">(0.095)</span></div>
<div class="t " style="left:344.70px;width:300px;text-align:center;top:668.31px;font-size:16.7px;">27.5<span style="font-size:11.7px">(0.2)</span></div>
<div class="t " style="left:438.70px;width:300px;text-align:center;top:668.31px;font-size:16.7px;">46.0<span style="font-size:11.7px">(0.2)</span></div>
<div class="t " style="left:534.80px;width:300px;text-align:center;top:668.31px;font-size:16.7px;">3.55<span style="font-size:11.7px">(0.26)</span></div>
<div class="t " style="left:619.00px;width:300px;text-align:center;top:668.31px;font-size:16.7px;">207.7<span style="font-size:11.7px">(43.7)</span></div>
<div class="t " style="left:720.00px;width:300px;text-align:center;top:668.31px;font-size:16.7px;">61.5<span style="font-size:11.7px">(1.2)</span></div>
<div class="t " style="left:48.00px;top:685.51px;font-size:16.7px;letter-spacing:0.75px;">G<span class="sc">RAPH</span>L<span class="sc">O</span>G</div>
<div class="t " style="left:57.00px;width:300px;text-align:center;top:685.51px;font-size:16.7px;">0.577<span style="font-size:11.7px">(0.010)</span></div>
<div class="t " style="left:145.60px;width:300px;text-align:center;top:685.51px;font-size:16.7px;">1.109<span style="font-size:11.7px">(0.059)</span></div>
<div class="t " style="left:246.70px;width:300px;text-align:center;top:685.51px;font-size:16.7px;">2.373<span style="font-size:11.7px">(0.283)</span></div>
<div class="t " style="left:344.70px;width:300px;text-align:center;top:685.51px;font-size:16.7px;">29.5<span style="font-size:11.7px">(1.3)</span></div>
<div class="t " style="left:438.70px;width:300px;text-align:center;top:685.51px;font-size:16.7px;">50.3<span style="font-size:11.7px">(3.3)</span></div>
<div class="t " style="left:532.80px;width:300px;text-align:center;top:685.51px;font-size:16.7px;">3.01<span style="font-size:11.7px">(0.17)</span></div>
<div class="t " style="left:621.00px;width:300px;text-align:center;top:685.51px;font-size:16.7px;">229.7<span style="font-size:11.7px">(48.3)</span></div>
<div class="t " style="left:720.00px;width:300px;text-align:center;top:685.51px;font-size:16.7px;">62.1<span style="font-size:11.7px">(0.6)</span></div>
<div class="t " style="left:48.00px;top:702.71px;font-size:16.7px;letter-spacing:0.75px;">MGSSL</div>
<div class="t " style="left:57.00px;width:300px;text-align:center;top:702.71px;font-size:16.7px;">0.569<span style="font-size:11.7px">(0.007)</span></div>
<div class="t " style="left:145.60px;width:300px;text-align:center;top:702.71px;font-size:16.7px;">0.998<span style="font-size:11.7px">(0.031)</span></div>
<div class="t " style="left:246.70px;width:300px;text-align:center;top:702.71px;font-size:16.7px;">1.956<span style="font-size:11.7px">(0.077)</span></div>
<div class="t " style="left:344.70px;width:300px;text-align:center;top:702.71px;font-size:16.7px;">26.9<span style="font-size:11.7px">(0.4)</span></div>
<div class="t " style="left:438.70px;width:300px;text-align:center;top:702.71px;font-size:16.7px;">42.7<span style="font-size:11.7px">(1.2)</span></div>
<div class="t " style="left:532.80px;width:300px;text-align:center;top:702.71px;font-size:16.7px;">3.10<span style="font-size:11.7px">(0.14)</span></div>
<div class="t " style="left:619.00px;width:300px;text-align:center;top:702.71px;font-size:16.7px;">201.1<span style="font-size:11.7px">(31.9)</span></div>
<div class="t " style="left:718.00px;width:300px;text-align:center;top:702.71px;font-size:16.7px;">N.A.</div>
<div class="t " style="left:48.00px;top:719.91px;font-size:16.7px;letter-spacing:0.75px;">D-SLA</div>
<div class="t " style="left:57.00px;width:300px;text-align:center;top:719.91px;font-size:16.7px;">0.563<span style="font-size:11.7px">(0.004)</span></div>
<div class="t " style="left:145.60px;width:300px;text-align:center;top:719.91px;font-size:16.7px;">1.064<span style="font-size:11.7px">(0.030)</span></div>
<div class="t " style="left:246.70px;width:300px;text-align:center;top:719.91px;font-size:16.7px;">2.190<span style="font-size:11.7px">(0.149)</span></div>
<div class="t " style="left:344.70px;width:300px;text-align:center;top:719.91px;font-size:16.7px;">27.5<span style="font-size:11.7px">(1.0)</span></div>
<div class="t " style="left:438.70px;width:300px;text-align:center;top:719.91px;font-size:16.7px;">51.7<span style="font-size:11.7px">(2.5)</span></div>
<div class="t " style="left:532.80px;width:300px;text-align:center;top:719.91px;font-size:16.7px;">2.71<span style="font-size:11.7px">(0.08)</span></div>
<div class="t " style="left:621.00px;width:300px;text-align:center;top:719.91px;font-size:16.7px;">257.8<span style="font-size:11.7px">(30.2)</span></div>
<div class="t " style="left:720.00px;width:300px;text-align:center;top:719.91px;font-size:16.7px;">65.0<span style="font-size:11.7px">(1.2)</span></div>
<div class="t " style="left:48.00px;top:746.81px;font-size:16.7px;letter-spacing:0.75px;">I<span class="sc">NFO</span>G<span class="sc">RAPH</span></div>
<div class="t " style="left:57.00px;width:300px;text-align:center;top:746.81px;font-size:16.7px;">0.793<span style="font-size:11.7px">(0.094)</span></div>
<div class="t " style="left:145.60px;width:300px;text-align:center;top:746.81px;font-size:16.7px;">1.285<span style="font-size:11.7px">(0.093)</span></div>
<div class="t " style="left:246.70px;width:300px;text-align:center;top:746.81px;font-size:16.7px;">3.710<span style="font-size:11.7px">(0.418)</span></div>
<div class="t " style="left:344.70px;width:300px;text-align:center;top:746.81px;font-size:16.7px;">30.8<span style="font-size:11.7px">(1.2)</span></div>
<div class="t " style="left:438.70px;width:300px;text-align:center;top:746.81px;font-size:16.7px;">51.2<span style="font-size:11.7px">(5.1)</span></div>
<div class="t " style="left:532.80px;width:300px;text-align:center;top:746.81px;font-size:16.7px;">2.75<span style="font-size:11.7px">(0.15)</span></div>
<div class="t " style="left:619.00px;width:300px;text-align:center;top:746.81px;font-size:16.7px;">207.2<span style="font-size:11.7px">(21.8)</span></div>
<div class="t " style="left:720.00px;width:300px;text-align:center;top:746.81px;font-size:16.7px;">67.7<span style="font-size:11.7px">(0.4)</span></div>
<div class="t " style="left:48.00px;top:764.21px;font-size:16.7px;letter-spacing:0.75px;">ST-R<span class="sc">EAL</span></div>
<div class="t " style="left:55.00px;width:300px;text-align:center;top:764.21px;font-size:16.7px;"><u>0.526</u><span style="font-size:11.7px">(0.009)</span></div>
<div class="t " style="left:145.60px;width:300px;text-align:center;top:764.21px;font-size:16.7px;">0.788<span style="font-size:11.7px">(0.070)</span></div>
<div class="t " style="left:244.70px;width:300px;text-align:center;top:764.21px;font-size:16.7px;">1.770<span style="font-size:11.7px">(0.251)</span></div>
<div class="t " style="left:342.70px;width:300px;text-align:center;top:764.21px;font-size:16.7px;">26.6<span style="font-size:11.7px">(0.3)</span></div>
<div class="t " style="left:436.70px;width:300px;text-align:center;top:764.21px;font-size:16.7px;">42.3<span style="font-size:11.7px">(1.2)</span></div>
<div class="t " style="left:532.80px;width:300px;text-align:center;top:764.21px;font-size:16.7px;"><u>2.64</u><span style="font-size:11.7px">(0.07)</span></div>
<div class="t " style="left:621.00px;width:300px;text-align:center;top:764.21px;font-size:16.7px;">256.0<span style="font-size:11.7px">(17.5)</span></div>
<div class="t " style="left:718.00px;width:300px;text-align:center;top:764.21px;font-size:16.7px;">68.9<span style="font-size:11.7px">(0.1)</span></div>
<div class="t " style="left:48.00px;top:781.61px;font-size:16.7px;letter-spacing:0.75px;">ST-G<span class="sc">EN</span></div>
<div class="t " style="left:55.00px;width:300px;text-align:center;top:781.61px;font-size:16.7px;">0.531<span style="font-size:11.7px">(0.031)</span></div>
<div class="t " style="left:143.60px;width:300px;text-align:center;top:781.61px;font-size:16.7px;"><u>0.724</u><span style="font-size:11.7px">(0.082)</span></div>
<div class="t " style="left:244.70px;width:300px;text-align:center;top:781.61px;font-size:16.7px;"><u>1.547</u><span style="font-size:11.7px">(0.082)</span></div>
<div class="t " style="left:342.70px;width:300px;text-align:center;top:781.61px;font-size:16.7px;">26.8<span style="font-size:11.7px">(0.3)</span></div>
<div class="t " style="left:436.70px;width:300px;text-align:center;top:781.61px;font-size:16.7px;">42.0<span style="font-size:11.7px">(0.9)</span></div>
<div class="t " style="left:532.80px;width:300px;text-align:center;top:781.61px;font-size:16.7px;">2.70<span style="font-size:11.7px">(0.03)</span></div>
<div class="t " style="left:621.00px;width:300px;text-align:center;top:781.61px;font-size:16.7px;">262.2<span style="font-size:11.7px">(10.1)</span></div>
<div class="t " style="left:718.00px;width:300px;text-align:center;top:781.61px;font-size:16.7px;">68.6<span style="font-size:11.7px">(0.6)</span></div>
<div class="t " style="left:48.00px;top:806.41px;font-size:16.7px;letter-spacing:0.75px;">FLAG</div>
<div class="t " style="left:55.00px;width:300px;text-align:center;top:806.41px;font-size:16.7px;">0.528<span style="font-size:11.7px">(0.012)</span></div>
<div class="t " style="left:143.60px;width:300px;text-align:center;top:806.41px;font-size:16.7px;">0.755<span style="font-size:11.7px">(0.039)</span></div>
<div class="t " style="left:244.70px;width:300px;text-align:center;top:806.41px;font-size:16.7px;">1.565<span style="font-size:11.7px">(0.098)</span></div>
<div class="t " style="left:342.70px;width:300px;text-align:center;top:806.41px;font-size:16.7px;">26.6<span style="font-size:11.7px">(1.3)</span></div>
<div class="t " style="left:436.70px;width:300px;text-align:center;top:806.41px;font-size:16.7px;">44.2<span style="font-size:11.7px">(2.0)</span></div>
<div class="t " style="left:532.80px;width:300px;text-align:center;top:806.41px;font-size:16.7px;">3.05<span style="font-size:11.7px">(0.10)</span></div>
<div class="t " style="left:619.00px;width:300px;text-align:center;top:806.41px;font-size:16.7px;"><u>177.7</u><span style="font-size:11.7px">(60.7)</span></div>
<div class="t " style="left:718.00px;width:300px;text-align:center;top:806.41px;font-size:16.7px;"><u>69.2</u><span style="font-size:11.7px">(0.2)</span></div>
<div class="t " style="left:48.00px;top:823.21px;font-size:16.7px;letter-spacing:0.75px;">GREA</div>
<div class="t " style="left:55.00px;width:300px;text-align:center;top:823.21px;font-size:16.7px;">0.586<span style="font-size:11.7px">(0.036)</span></div>
<div class="t " style="left:143.60px;width:300px;text-align:center;top:823.21px;font-size:16.7px;">0.805<span style="font-size:11.7px">(0.135)</span></div>
<div class="t " style="left:244.70px;width:300px;text-align:center;top:823.21px;font-size:16.7px;">1.829<span style="font-size:11.7px">(0.368)</span></div>
<div class="t " style="left:342.70px;width:300px;text-align:center;top:823.21px;font-size:16.7px;">26.7<span style="font-size:11.7px">(1.0)</span></div>
<div class="t " style="left:436.70px;width:300px;text-align:center;top:823.21px;font-size:16.7px;">41.1<span style="font-size:11.7px">(0.8)</span></div>
<div class="t " style="left:532.80px;width:300px;text-align:center;top:823.21px;font-size:16.7px;">3.23<span style="font-size:11.7px">(0.18)</span></div>
<div class="t " style="left:619.00px;width:300px;text-align:center;top:823.21px;font-size:16.7px;">194.0<span style="font-size:11.7px">(45.5)</span></div>
<div class="t " style="left:718.00px;width:300px;text-align:center;top:823.21px;font-size:16.7px;">68.8<span style="font-size:11.7px">(0.2)</span></div>
<div class="t " style="left:156.00px;width:300px;text-align:center;top:504.21px;font-size:16.7px;">Molecule Regression: MAE <svg class="ar" width="10" height="16" viewBox="0 0 10 16"><path d="M5 0.5 L5 15" stroke="#000" stroke-width="1.3" fill="none"/><path d="M0.5 10.8 Q3.5 12 5 15.2 Q6.5 12 9.5 10.8" stroke="#000" stroke-width="1.1" fill="none"/></svg></div>
<div class="t " style="left:481.30px;width:300px;text-align:center;top:504.21px;font-size:16.7px;">Polymer Regression: MAE <svg class="ar" width="10" height="16" viewBox="0 0 10 16"><path d="M5 0.5 L5 15" stroke="#000" stroke-width="1.3" fill="none"/><path d="M0.5 10.8 Q3.5 12 5 15.2 Q6.5 12 9.5 10.8" stroke="#000" stroke-width="1.1" fill="none"/></svg></div>
<div class="t " style="left:718.30px;width:300px;text-align:center;top:504.21px;font-size:16.7px;">Bio: AUC (%)<svg class="ar" width="10" height="16" viewBox="0 0 10 16"><path d="M5 1 L5 15.5" stroke="#000" stroke-width="1.3" fill="none"/><path d="M0.5 5.2 Q3.5 4 5 0.8 Q6.5 4 9.5 5.2" stroke="#000" stroke-width="1.1" fill="none"/></svg></div>
<div class="t " style="left:55.00px;width:300px;text-align:center;top:530.91px;font-size:16.7px;">ogbg-Lipo</div>
<div class="t " style="left:55.00px;width:300px;text-align:center;top:548.11px;font-size:16.7px;">3,360</div>
<div class="t " style="left:143.60px;width:300px;text-align:center;top:530.91px;font-size:16.7px;">ogbg-ESOL</div>
<div class="t " style="left:143.60px;width:300px;text-align:center;top:548.11px;font-size:16.7px;">902</div>
<div class="t " style="left:244.70px;width:300px;text-align:center;top:530.91px;font-size:16.7px;">ogbg-FreeSolv</div>
<div class="t " style="left:244.70px;width:300px;text-align:center;top:548.11px;font-size:16.7px;">513</div>
<div class="t " style="left:342.70px;width:300px;text-align:center;top:530.91px;font-size:16.7px;">GlassTemp</div>
<div class="t " style="left:342.70px;width:300px;text-align:center;top:548.11px;font-size:16.7px;">4,303</div>
<div class="t " style="left:436.70px;width:300px;text-align:center;top:530.91px;font-size:16.7px;">MeltingTemp</div>
<div class="t " style="left:436.70px;width:300px;text-align:center;top:548.11px;font-size:16.7px;">2,189</div>
<div class="t " style="left:532.80px;width:300px;text-align:center;top:530.91px;font-size:16.7px;">ThermCond</div>
<div class="t " style="left:532.80px;width:300px;text-align:center;top:548.11px;font-size:16.7px;">455</div>
<div class="t " style="left:619.00px;width:300px;text-align:center;top:530.91px;font-size:16.7px;">O<sub>2</sub>Perm</div>
<div class="t " style="left:619.00px;width:300px;text-align:center;top:548.11px;font-size:16.7px;">356</div>
<div class="t " style="left:718.00px;width:300px;text-align:center;top:530.91px;font-size:16.7px;">PPI</div>
<div class="t " style="left:718.00px;width:300px;text-align:center;top:548.11px;font-size:16.7px;">60,715</div>
<div class="t " style="left:28.20px;top:548.01px;font-size:16.7px;"># Training Graphs</div>
<div class="t " style="left:48.00px;top:574.11px;font-size:16.7px;letter-spacing:0.6px;">GIN</div>
<div class="t " style="left:55.00px;width:300px;text-align:center;top:574.11px;font-size:16.7px;">0.545<span style="font-size:11.7px">(0.019)</span></div>
<div class="t " style="left:143.60px;width:300px;text-align:center;top:574.11px;font-size:16.7px;">0.766<span style="font-size:11.7px">(0.016)</span></div>
<div class="t " style="left:244.70px;width:300px;text-align:center;top:574.11px;font-size:16.7px;">1.639<span style="font-size:11.7px">(0.146)</span></div>
<div class="t " style="left:342.70px;width:300px;text-align:center;top:574.11px;font-size:16.7px;"><u>26.4</u><span style="font-size:11.7px">(0.2)</span></div>
<div class="t " style="left:436.70px;width:300px;text-align:center;top:574.11px;font-size:16.7px;"><u>40.9</u><span style="font-size:11.7px">(2.2)</span></div>
<div class="t " style="left:532.80px;width:300px;text-align:center;top:574.11px;font-size:16.7px;">3.25<span style="font-size:11.7px">(0.19)</span></div>
<div class="t " style="left:619.00px;width:300px;text-align:center;top:574.11px;font-size:16.7px;">201.3<span style="font-size:11.7px">(45.0)</span></div>
<div class="t " style="left:718.00px;width:300px;text-align:center;top:574.11px;font-size:16.7px;">69.1<span style="font-size:11.7px">(0.0)</span></div>
<div class="t " style="left:48.00px;top:850.31px;font-size:16.7px;letter-spacing:0.25px;">DCT (Ours)</div>
<div class="t " style="left:55.00px;width:300px;text-align:center;top:850.31px;font-size:16.7px;"><b>0.516</b><span style="font-size:11.7px">(0.071)</span></div>
<div class="t " style="left:143.60px;width:300px;text-align:center;top:850.31px;font-size:16.7px;"><b>0.717</b><span style="font-size:11.7px">(0.020)</span></div>
<div class="t " style="left:244.70px;width:300px;text-align:center;top:850.31px;font-size:16.7px;"><b>1.339</b><span style="font-size:11.7px">(0.075)</span></div>
<div class="t " style="left:342.70px;width:300px;text-align:center;top:850.31px;font-size:16.7px;"><b>23.7</b><span style="font-size:11.7px">(0.2)</span></div>
<div class="t " style="left:436.70px;width:300px;text-align:center;top:850.31px;font-size:16.7px;"><b>38.0</b><span style="font-size:11.7px">(0.8)</span></div>
<div class="t " style="left:532.80px;width:300px;text-align:center;top:850.31px;font-size:16.7px;"><b>2.59</b><span style="font-size:11.7px">(0.11)</span></div>
<div class="t " style="left:619.00px;width:300px;text-align:center;top:850.31px;font-size:16.7px;"><b>165.6</b><span style="font-size:11.7px">(24.3)</span></div>
<div class="t " style="left:718.00px;width:300px;text-align:center;top:850.31px;font-size:16.7px;"><b>69.5</b><span style="font-size:11.7px">(0.2)</span></div>
<div class="v" style="left:-122.50px;top:647.32px;width:300px;font-size:16.7px;line-height:18.37px">Self-Supervised</div>
<div class="v" style="left:-122.50px;top:764.82px;width:300px;font-size:16.7px;line-height:18.37px">Semi-SL</div>
<div class="v" style="left:-122.50px;top:815.82px;width:300px;font-size:16.7px;line-height:18.37px">GDA</div>
</body></html>
